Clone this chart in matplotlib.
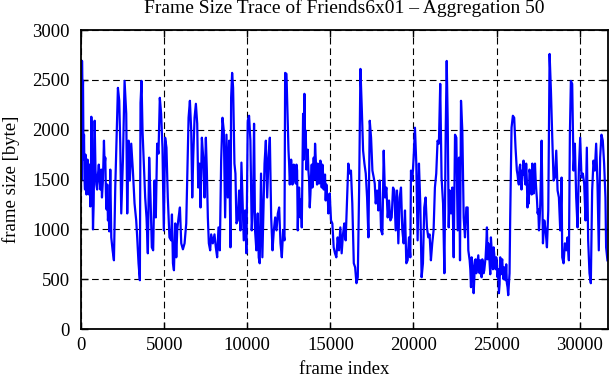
import numpy as np
import matplotlib.pyplot as plt

# frame index and aggregated frame size in byte
frames = [
    0, 20, 60, 120, 180, 240, 300, 360, 420, 480, 560, 620, 720, 820, 920,
    1020, 1120, 1220, 1260, 1380, 1460, 1540, 1620, 1700, 1760, 1820, 1900,
    1980, 2060, 2140, 2220, 2300, 2360, 2420, 2520, 2620, 2720, 2780, 2860,
    2940, 3020, 3120, 3220, 3320, 3380, 3460, 3540, 3580, 3640, 3700, 3780,
    3860, 3940, 4020, 4100, 4180, 4260, 4340, 4420, 4500, 4580, 4660, 4740,
    4820, 4900, 4980, 5060, 5140, 5220, 5320, 5420,
    5470, 5530, 5590, 5670, 5730, 5790, 5870, 5950, 6030, 6130, 6230, 6330,
    6390, 6470, 6550, 6630, 6690, 6750, 6830, 6910, 6990, 7050, 7130, 7190,
    7270, 7350, 7430, 7510, 7570, 7630, 7690, 7770, 7830, 7930, 8030, 8110,
    8190, 8270, 8350, 8430, 8510, 8590, 8670, 8750, 8830, 8910, 8990, 9030,
    9090, 9150, 9230, 9290, 9350, 9430, 9510, 9590, 9650, 9710, 9790, 9870,
    9950, 10030, 10110, 10190, 10270, 10350, 10410, 10470, 10550, 10630,
    10690, 10750, 10830, 10910,
    11040, 11120, 11200, 11280, 11360, 11440, 11520, 11600, 11680, 11760,
    11840, 11920, 12000, 12080, 12160, 12240, 12280, 12360, 12440, 12520,
    12600, 12680, 12760, 12840, 12920, 13000, 13040, 13120, 13200, 13280,
    13360, 13440, 13520, 13600, 13680, 13760, 13840, 13920, 14000, 14080,
    14160, 14240, 14320, 14400, 14480, 14560, 14640, 14720, 14800, 14880,
    14960, 15040, 15120, 15200, 15280, 15360, 15440, 15520, 15600, 15680,
    15760, 15840, 15920, 16000, 16080, 16160, 16240, 16320,
    16410, 16490, 16570, 16650, 16730, 16810, 16890, 16970, 17050, 17130,
    17210, 17290, 17370, 17450, 17530, 17610, 17670, 17730, 17810, 17890,
    17970, 18050, 18130, 18210, 18290, 18370, 18450, 18530, 18610, 18690,
    18770, 18850, 18930, 19010, 19090, 19170, 19250, 19330, 19410, 19490,
    19570, 19650, 19730, 19810, 19850, 19930, 20010, 20090, 20170, 20250,
    20330, 20410, 20490, 20570, 20650, 20730, 20810, 20890, 20970, 21050,
    21130, 21210, 21290, 21370, 21450, 21530, 21610, 21690,
    21780, 21860, 21940, 22000, 22060, 22120, 22180, 22260, 22340, 22420,
    22500, 22580, 22660, 22740, 22800, 22860, 22940, 23020, 23100, 23180,
    23260, 23300, 23380, 23460, 23540, 23620, 23700, 23780, 23860, 23940,
    24020, 24100, 24180, 24260, 24340, 24420, 24500, 24580, 24660, 24740,
    24820, 24900, 24980, 25060, 25140, 25220, 25300, 25380, 25460, 25540,
    25620, 25700, 25780, 25820, 25900, 25980, 26060, 26140, 26220, 26300,
    26380, 26460, 26540, 26620, 26700, 26780, 26860, 26940, 27020,
    27070, 27150, 27230, 27310, 27390, 27470, 27550, 27630, 27710, 27790,
    27870, 27950, 28030, 28110, 28190, 28270, 28350, 28430, 28510, 28590,
    28670, 28750, 28830, 28910, 28950, 29030, 29110, 29190, 29270, 29350,
    29410, 29470, 29550, 29630, 29710, 29790, 29870, 29950, 30030, 30110,
    30190, 30270, 30350, 30430, 30510, 30590, 30670, 30750, 30830, 30910,
    30990, 31070, 31150, 31230, 31310, 31390, 31470, 31550, 31590, 31670,
]
sizes = [
    1400, 2200, 2690, 2490, 1950, 1400, 1700, 1500, 1600, 1350, 1230, 2130,
    1000, 2090, 1450, 1550, 1500, 1600, 1320, 1890, 1720, 1200, 1090, 980,
    1600, 920, 790, 690, 1420, 1920, 2420, 2290, 1860, 1160, 1690, 2490,
    2160, 1160, 1890, 1490, 1860, 1590, 1260, 1090, 920, 660, 490, 2270,
    2490, 1990, 1660, 1320, 1120, 760, 1720, 1320, 820, 790, 1490, 1120,
    1860, 1760, 2320, 2160, 1820, 990, 1920, 1820, 1320, 920, 890,
    1150, 660, 590, 1060, 720, 1000, 1120, 1220, 860, 800, 860, 1060,
    1520, 2120, 2290, 1990, 1320, 1720, 2120, 2260, 2060, 1420, 1660, 1220,
    1920, 1720, 1320, 1920, 1590, 1120, 860, 790, 950, 860, 950, 820,
    720, 1020, 790, 1690, 2120, 1990, 1120, 1950, 1320, 1890, 820, 2320,
    2570, 2420, 1660, 1560, 1060, 1090, 1390, 990, 1670, 1320, 890, 1190,
    760, 2090, 2140, 1890, 990, 1260, 2060, 990, 790, 1160,
    720, 660, 1560, 720,
    1660, 1890, 1320, 1720, 1920, 1120, 790, 990, 1120, 990,
    1160, 1220, 860, 720, 990, 890, 2570, 2560, 2060, 1660,
    1590, 1620, 1520, 1590, 1460, 1590, 990, 1420, 1120, 1020,
    2160, 2360, 1990, 1690, 1590, 1220, 1520, 1420, 1720, 1860,
    1560, 1660, 1460, 1690, 1420, 1560, 1460, 1290, 1320, 1160,
    1360, 1090, 1060, 820, 760, 720, 920, 790, 1020, 760,
    950, 1060, 890, 1260, 1660, 1560, 1590, 1260,
    660, 620, 460, 520, 1390, 2610, 2220, 1790, 1660, 1560,
    1320, 920, 2090, 1920, 1590, 1520, 1460, 1260, 1390, 1190,
    1490, 990, 950, 1790, 1320, 1420, 1120, 1290, 1090, 1120,
    1420, 1390, 990, 1390, 860, 1320, 1420, 990, 860, 1190,
    660, 690, 920, 720, 1590, 1490, 1720, 2020, 1660, 890,
    1660, 1260, 520, 660, 1220, 1320, 1020, 920, 950, 690,
    860, 990, 1420, 1560, 1890, 1860, 2460, 1520,
    1260, 560, 1990, 2690, 2090, 1020, 1390, 1160, 1420, 720,
    1950, 1920, 990, 1720, 690, 2290, 1990, 1120, 920, 1220,
    1220, 790, 690, 420, 660, 360, 690, 560, 690, 590,
    690, 520, 660, 590, 720, 1020, 860, 660, 920, 690,
    820, 660, 720, 520, 360, 720, 660, 560, 620, 490,
    460, 340, 560, 1120, 2020, 2140, 2120, 1820, 1590, 1490,
    1620, 1490, 1590, 1690, 1490, 1660, 1220, 1260, 1560,
    1490, 1660, 1360, 1660, 1390, 1160, 990, 1260, 1890, 860,
    1090, 990, 820, 1190, 2760, 2390, 1920, 1490, 1520, 1790,
    1390, 1320, 990, 1520, 720, 660, 860, 790, 920, 690,
    1950, 2490, 2460, 1590, 1860, 1320, 1020, 1590, 1920, 1520,
    1560, 1460, 1090, 1820, 890, 560, 460, 1390, 1690, 1590,
    1860, 1460, 790, 1720, 1950, 1890, 1660, 1320, 820, 690,
]

# extra readings inside the dense bands (start, the 12500-15000 plateau,
# the low stretch around 24000 and the plateau after 26000)
extra_frames = [
    40, 90, 150, 210, 270, 330, 390, 450, 520, 590, 660, 760, 870, 970,
    1070, 1170, 1320, 1420, 1500, 1580, 1660,
    12480, 12560, 12640, 12720, 12800, 12880, 12960, 13080, 13160, 13240,
    13400, 13480, 13560, 13640, 13720, 13800, 13880, 13960, 14040, 14120,
    14200, 14280, 14360, 14440, 14520, 14600, 14680, 14760, 14840, 14920,
    23420, 23500, 23580, 23660, 23740, 23820, 23900, 23980, 24060, 24140,
    24220, 24300, 24380, 24460, 24540, 24620, 24700, 24780, 24860, 24940,
    25020, 25100, 25180, 25260, 25340, 25420, 25500, 25580, 25660, 25740,
    26180, 26260, 26340, 26420, 26500, 26580, 26660, 26740, 26820, 26900,
    26980, 27110, 27190, 27270, 27350, 27430, 27510, 27590,
]
extra_sizes = [
    1500, 2300, 1700, 1500, 1750, 1350, 1700, 1450, 1650, 1300, 1900, 1250,
    1600, 1400, 1650, 1400, 1500, 1650, 1350, 1450, 1200,
    1800, 1450, 1700, 1450, 1650, 1500, 1650, 1300, 1250, 1300,
    1700, 1900, 1600, 1800, 1500, 1350, 1650, 1550, 1500, 1700,
    1450, 1600, 1500, 1550, 1650, 1400, 1550, 1450, 1350, 1250,
    600, 720, 600, 500, 700, 620, 740, 560, 620, 700,
    560, 650, 850, 700, 780, 550, 800, 600, 750, 600,
    650, 600, 450, 550, 700, 500, 560, 650, 420, 450,
    1700, 1550, 1450, 1650, 1400, 1550, 1600, 1450, 1500, 1350,
    1600, 1350, 1550, 1450, 1500, 1300, 1200, 1100,
]

x_ticks = np.arange(0, 30001, 5000)
y_ticks = np.arange(0, 3001, 500)

order = np.argsort(np.array(frames + extra_frames), kind='stable')
x = np.array(frames + extra_frames)[order]
y = np.array(sizes + extra_sizes)[order]

plt.rcParams['font.family'] = 'Liberation Serif'
plt.rcParams['font.size'] = 13.5

fig, ax = plt.subplots(figsize=(6.11, 3.80), dpi=100)
fig.subplots_adjust(left=0.1326, right=0.995, top=0.921, bottom=0.134)

ax.plot(x, y, color='#0000ff', linewidth=1.6)

ax.set_xlim(0, 31700)
ax.set_ylim(0, 3000)
ax.set_xticks(x_ticks)
ax.set_yticks(y_ticks)
ax.grid(True, color='black', linestyle=(0, (6, 3.5)), linewidth=0.8)
ax.set_axisbelow(True)
ax.tick_params(direction='in', top=True, right=True, length=5, width=1.0)
ax.tick_params(axis='x', pad=6)
ax.tick_params(axis='y', pad=8)
for sp in ax.spines.values():
    sp.set_linewidth(1.3)

ax.set_xlabel('frame index', labelpad=5)
ax.set_ylabel('frame size [byte]', labelpad=9)
ax.set_title('Frame Size Trace of Friends6x01 \u2013 Aggregation 50', fontsize=14, pad=12)

fig.savefig('out.png', dpi=100)
